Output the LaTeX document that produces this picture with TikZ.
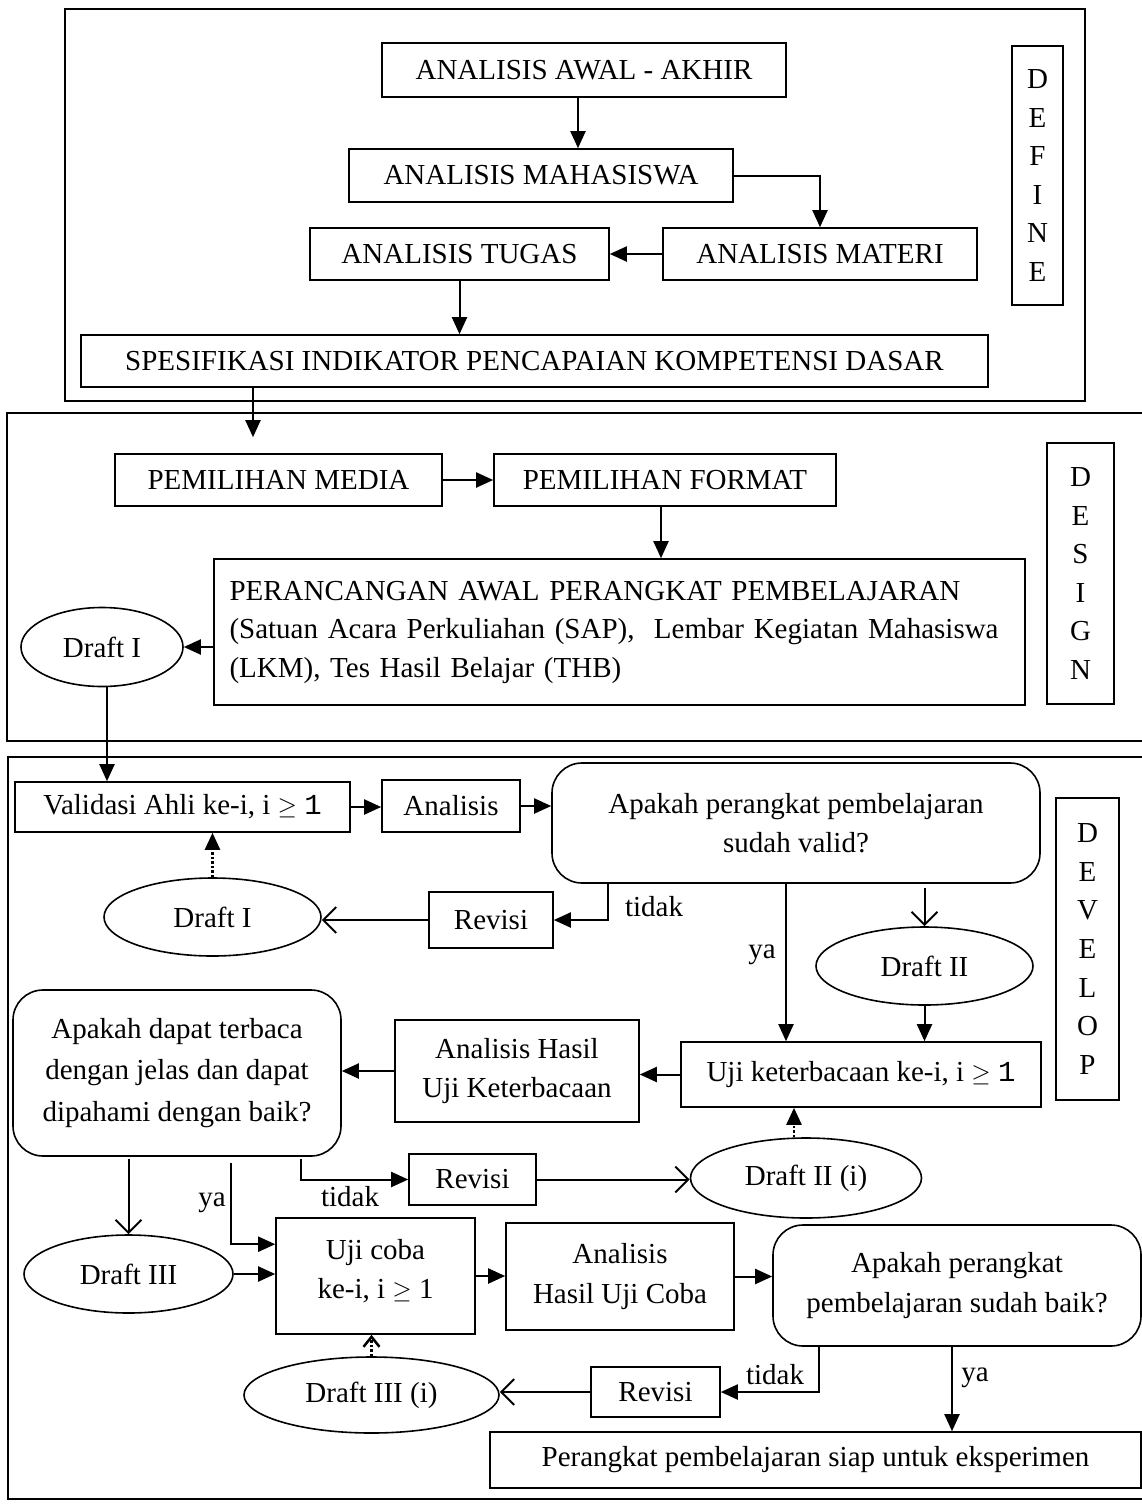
\documentclass[tikz,border=0pt]{standalone}
\usepackage{fontspec}
\setmainfont{Liberation Serif}
\newfontfamily\monof{Liberation Mono}
\usetikzlibrary{arrows.meta,shapes.geometric}

\newcommand{\flowfont}{\fontsize{29}{39.5}\selectfont}

\begin{document}
\begin{tikzpicture}[x=1pt, y=-1pt,
    box/.style={draw, rectangle, line width=1.6pt, font=\flowfont, align=center, inner sep=2pt},
    ask/.style={box, rounded corners=30pt},
    draft/.style={draw, ellipse, line width=1.6pt, font=\flowfont, inner sep=0pt},
    phase/.style={box, font=\fontsize{29}{38.6}\selectfont},
    lbl/.style={font=\flowfont, inner sep=0pt},
    arr/.style={-{Triangle[length=17pt,width=15pt]}, line width=2pt},
    barb/.style={-{Straight Barb[length=13pt,width=26pt]}, line width=2pt},
    dotarr/.style={arr, line width=2.5pt, dash pattern=on 2.5pt off 2pt},
    stage/.style={draw, line width=2pt}]
    \useasboundingbox (0,0) rectangle (1142,1504);

    \draw[stage] (65,9) rectangle (1085,401);
    \draw[stage] (7,413) rectangle (1150,741);
    \draw[stage] (8,757) rectangle (1150,1499);

    \node[box, minimum width=404pt, minimum height=54pt] (awal) at (584,70) {ANALISIS AWAL - AKHIR};
    \node[box, minimum width=384pt, minimum height=53pt] (mhs) at (541,175.5) {ANALISIS MAHASISWA};
    \node[box, minimum width=299pt, minimum height=52pt] (tugas) at (459.5,254) {ANALISIS TUGAS};
    \node[box, minimum width=314pt, minimum height=52pt] (materi) at (820,254) {ANALISIS MATERI};
    \node[box, minimum width=907pt, minimum height=52pt] (spes) at (534.5,361) {SPESIFIKASI INDIKATOR PENCAPAIAN KOMPETENSI DASAR};
    \node[phase, minimum width=51pt, minimum height=259pt] (define) at (1037.5,175.5) {D\\E\\F\\I\\N\\E};

    \node[box, minimum width=327pt, minimum height=52pt] (media) at (278.5,480) {PEMILIHAN MEDIA};
    \node[box, minimum width=342pt, minimum height=52pt] (format) at (665,480) {PEMILIHAN FORMAT};
    \node[box, minimum width=811pt, minimum height=146pt, align=left, text width=780pt, font=\fontsize{29}{38.5}\selectfont] (rancang) at (619.5,632) {PERANCANGAN AWAL PERANGKAT PEMBELAJARAN\\ \makebox[\linewidth][s]{(Satuan Acara Perkuliahan (SAP),~ Lembar Kegiatan Mahasiswa}\\ (LKM), Tes Hasil Belajar (THB)};
    \node[draft, minimum width=162pt, minimum height=79pt] (draftA) at (102,647) {Draft I};
    \node[phase, minimum width=67pt, minimum height=261pt] (design) at (1080.5,573.5) {D\\E\\S\\I\\G\\N};

    \node[box, minimum width=335pt, minimum height=50pt] (valid) at (182.5,807) {Validasi Ahli ke-i, i $\geq$ {\monof 1}};
    \node[box, minimum width=138pt, minimum height=52pt] (anls) at (451,806) {Analisis};
    \node[ask, minimum width=488pt, minimum height=120pt] (askA) at (796,823) {Apakah perangkat pembelajaran\\sudah valid?};
    \node[phase, minimum width=63pt, minimum height=302pt] (develop) at (1087.5,949) {D\\E\\V\\E\\L\\O\\P};
    \node[draft, minimum width=217pt, minimum height=78pt] (draftB) at (212.5,917) {Draft I};
    \node[box, minimum width=124pt, minimum height=56pt] (revA) at (491,920) {Revisi};
    \node[draft, minimum width=217pt, minimum height=78pt] (draftC) at (924.5,966) {Draft II};
    \node[box, minimum width=360pt, minimum height=65pt] (ujiK) at (861,1074.5) {Uji keterbacaan ke-i, i $\geq$ {\monof 1}};
    \node[box, minimum width=244pt, minimum height=102pt] (hasilK) at (517,1071) {Analisis Hasil\\Uji Keterbacaan};
    \node[ask, minimum width=328pt, minimum height=166pt, font=\fontsize{29}{41.5}\selectfont] (askB) at (177,1073) {Apakah dapat terbaca\\dengan jelas dan dapat\\dipahami dengan baik?};
    \node[draft, minimum width=231pt, minimum height=80pt] (draftD) at (806,1178) {Draft II (i)};
    \node[box, minimum width=127pt, minimum height=51pt] (revB) at (472.5,1179.5) {Revisi};
    \node[draft, minimum width=209pt, minimum height=78pt] (draftE) at (128.5,1274) {Draft III};
    \node[box, minimum width=199pt, minimum height=116pt, text depth=14pt] (ujiC) at (375.5,1276) {Uji coba\\ke-i, i $\geq$ 1};
    \node[box, minimum width=228pt, minimum height=107pt] (hasilC) at (620,1276.5) {Analisis\\Hasil Uji Coba};
    \node[ask, minimum width=368pt, minimum height=121pt] (askC) at (957,1285.5) {Apakah perangkat\\pembelajaran sudah baik?};
    \node[draft, minimum width=255pt, minimum height=76pt] (draftF) at (371.5,1395) {Draft III (i)};
    \node[box, minimum width=129pt, minimum height=50pt] (revC) at (655.5,1392) {Revisi};
    \node[box, minimum width=651pt, minimum height=56pt] (siap) at (815.5,1460) {Perangkat pembelajaran siap untuk eksperimen};

    \node[lbl] (tidakA) at (654,907) {tidak};
    \node[lbl] (yaA) at (762,955) {ya};
    \node[lbl] (tidakB) at (350,1197) {tidak};
    \node[lbl] (yaB) at (212,1203) {ya};
    \node[lbl] (tidakC) at (775,1375) {tidak};
    \node[lbl] (yaC) at (975,1378) {ya};

    \draw[arr] (578,0 |- awal.south) -- (578,0 |- mhs.north);
    \draw[arr] (mhs.east) -| (materi.north);
    \draw[arr] (materi.west) -- (tugas.east);
    \draw[arr] (tugas.south) -- (tugas.south |- spes.north);
    \draw[arr, shorten >=16pt] (253,0 |- spes.south) -- (253,0 |- media.north);

    \draw[arr] (media.east) -- (format.west);
    \draw[arr] (661,0 |- format.south) -- (661,0 |- rancang.north);
    \draw[arr] (draftA.east -| rancang.west) -- (draftA.east);
    \draw[arr] (107,0 |- draftA.south) -- (107,0 |- valid.north);

    \draw[arr] (valid.east) -- (valid.east -| anls.west);
    \draw[arr] (anls.east) -- (anls.east -| askA.west);
    \draw[arr] (608,0 |- askA.south) |- (revA.east);
    \draw[barb] (revA.west) -- (revA.west -| draftB.east);
    \draw[dotarr] (draftB.north) -- (draftB.north |- valid.south);
    \draw[arr] (786,0 |- askA.south) -- (786,0 |- ujiK.north);
    \draw[barb, shorten <=4pt] (askA.south -| draftC.north) -- (draftC.north);
    \draw[arr] (draftC.south) -- (draftC.south |- ujiK.north);
    \draw[arr] (ujiK.west) -- (ujiK.west -| hasilK.east);
    \draw[arr] (hasilK.west) -- (hasilK.west -| askB.east);
    \draw[dotarr] (794,0 |- draftD.north) -- (794,0 |- ujiK.south);
    \draw[arr, shorten <=2pt] (301,0 |- askB.south) |- (revB.west);
    \draw[barb] (revB.east) -- (revB.east -| draftD.west);
    \draw[barb, shorten <=2pt] (askB.south -| draftE.north) -- (draftE.north);
    \draw[arr, shorten <=6pt] (231,0 |- askB.south) |- ([yshift=-27pt]ujiC.north west);
    \draw[arr] (draftE.east) -- (draftE.east -| ujiC.west);
    \draw[arr] (ujiC.east) -- (ujiC.east -| hasilC.west);
    \draw[arr] (hasilC.east) -- (hasilC.east -| askC.west);
    \draw[dotarr, -{Straight Barb[length=10pt,width=16pt]}] (draftF.north) -- (draftF.north |- ujiC.south);
    \draw[arr] (819,0 |- askC.south) |- (revC.east);
    \draw[barb] (revC.west) -- (revC.west -| draftF.east);
    \draw[arr] (952,0 |- askC.south) -- (952,0 |- siap.north);
\end{tikzpicture}
\end{document}
